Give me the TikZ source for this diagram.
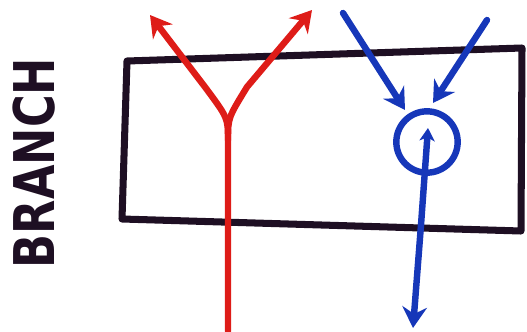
\documentclass[tikz,border=0pt]{standalone}
\usepackage{fontspec}
\setmainfont{DejaVu Sans}
\usetikzlibrary{arrows.meta}
\definecolor{ink}{RGB}{30,15,35}
\definecolor{redink}{RGB}{222,28,24}
\definecolor{blueink}{RGB}{22,55,185}
\tikzset{
  boxline/.style={draw=ink, line width=6pt, line join=round, line cap=round},
  redline/.style={draw=redink, line width=5.5pt, line cap=round, line join=round},
  blueline/.style={draw=blueink, line width=5.5pt, line cap=round, line join=round},
  bighead/.style={-{Stealth[length=18pt,width=21pt,inset=6pt]}},
  smallhead/.style={-{Stealth[length=11pt,width=13pt,inset=3pt]}},
}
\begin{document}
\begin{tikzpicture}[x=0.03cm,y=-0.03cm]
\useasboundingbox (0,0) rectangle (527,331);
% box corners
\coordinate (tl) at (127,61);
\coordinate (tr) at (522,48);
\coordinate (br) at (521,231);
\coordinate (bl) at (122,219);
\draw[boxline] (tl) -- (tr) -- (br) -- (bl) -- cycle;
% label
\node[rotate=90, inner sep=0pt, text=ink] (lbl) at (34,163)
  {\resizebox{6.3cm}{1.25cm}{\bfseries BRANCH}};
% red branch
\coordinate (rbot) at (228,331);
\coordinate (rj) at (228,140);
\coordinate (rl) at (205,87);
\coordinate (rr) at (247,87);
\coordinate (rtipL) at (150,15);
\coordinate (rtipR) at (312,10);
\draw[redline, bighead] (rbot) -- (rj) .. controls (228,118) .. (rl) -- (rtipL);
\draw[redline, bighead] (rj) .. controls (228,118) .. (rr) -- (rtipR);
% blue merge
\node[circle, draw=blueink, line width=5.5pt, minimum size=1.84cm, inner sep=0pt] (merge) at (427,142) {};
\coordinate (bsL) at (343,13);
\coordinate (btL) at (405,110);
\coordinate (bsR) at (487,20);
\coordinate (btR) at (433,103);
\draw[blueline, bighead] (bsL) -- (btL);
\draw[blueline, bighead] (bsR) -- (btR);
\coordinate (bin) at (428,128);
\coordinate (bout) at (413,328);
\coordinate (bmid) at (421,225);
\draw[blueline, smallhead] (bmid) -- (bin);
\draw[blueline, bighead] (bmid) -- (bout);
\end{tikzpicture}
\end{document}
